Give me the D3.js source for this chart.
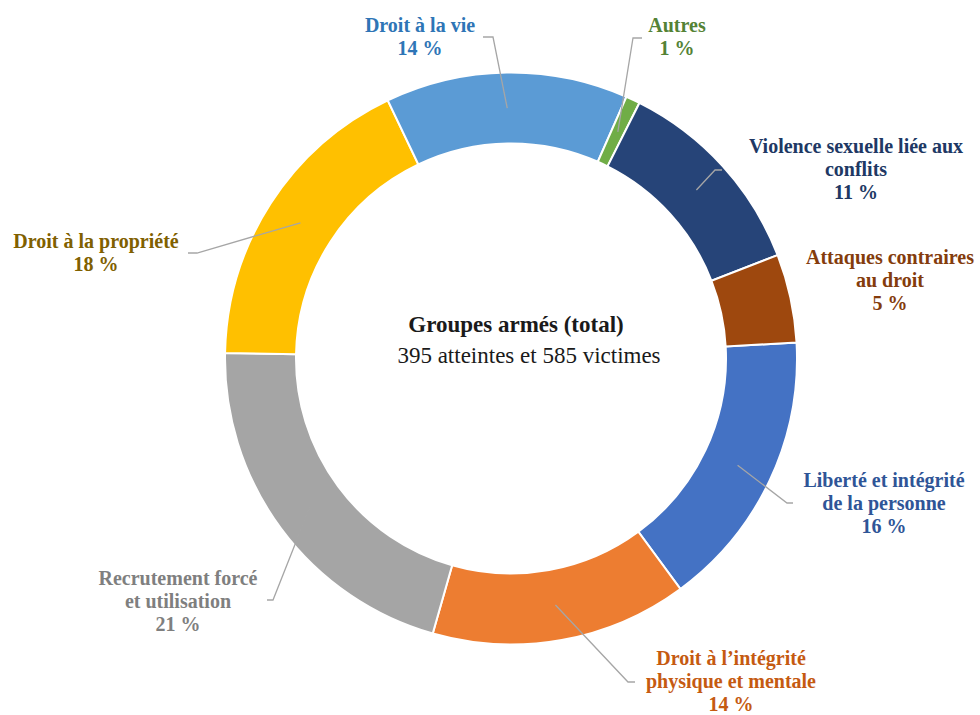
<!DOCTYPE html>
<html>
<head>
<meta charset="utf-8">
<script src="https://cdn.jsdelivr.net/npm/d3@7"></script>
</head>
<body style="margin:0">
<svg id="chart" width="980" height="715" style="font-family: 'Times New Roman', 'Liberation Serif', serif"></svg>
<script>
// order clockwise, first slice starts just left of 3 o'clock
const CATEGORIES = [
    ['Liberté et intégrité', 'de la personne'],
    ['Droit à l\u2019intégrité', 'physique et mentale'],
    ['Recrutement forcé', 'et utilisation'],
    ['Droit à la propriété'],
    ['Droit à la vie'],
    ['Autres'],
    ['Violence sexuelle liée aux', 'conflits'],
    ['Attaques contraires', 'au droit']
];
const SHARES = [15.8, 14.5, 20.9, 17.6, 13.7, 0.8, 11.7, 5.0];
const SHARE_LABELS = ['16 %', '14 %', '21 %', '18 %', '14 %', '1 %', '11 %', '5 %'];
const TITLE = 'Groupes armés (total)';
const SUBTITLE = '395 atteintes et 585 victimes';

const FILLS = ['#4472c4', '#ed7d31', '#a5a5a5', '#ffc000', '#5b9bd5', '#70ad47', '#264478', '#9e480e'];
const TEXT_COLORS = ['#2f5597', '#c55a11', '#7f7f7f', '#806000', '#2e75b6', '#548235', '#203864', '#843c0c'];

var FONT = 'Times New Roman';

function generateDonut() {
    var cx = 511;
    var cy = 358.5;
    var outer = 286;
    var inner = 215;
    var lineH = 23;

    // label block: centre x, first baseline, elbow of leader line (null = no leader)
    var layout = [
        {x: 884, y: 487, elbow: [787, 503], end: 793},
        {x: 731, y: 665, elbow: [628, 682], end: 635},
        {x: 178, y: 585, elbow: [273, 600], end: 267},
        {x: 96,  y: 248, elbow: [197, 253], end: 188},
        {x: 420, y: 32,  elbow: [493, 37],  end: 483},
        {x: 677, y: 32,  elbow: [633, 38],  end: 642},
        {x: 856, y: 153, elbow: [715, 170], end: 722},
        {x: 890, y: 264, elbow: null}
    ];

    var svg = d3.select('#chart');

    var startAngle = 86.8 * Math.PI / 180;
    var pie = d3.pie()
    .sort(null)
    .value(function (d) {return d;})
    .startAngle(startAngle)
    .endAngle(startAngle + 2 * Math.PI);

    var arcs = pie(SHARES);

    var arc = d3.arc()
    .innerRadius(inner)
    .outerRadius(outer);

    var g = svg.append('g')
    .attr('transform', `translate(${cx}, ${cy})`);

    g.selectAll('path.slice')
    .data(arcs)
    .enter()
    .append('path')
    .attr('class', 'slice')
    .attr('fill', function (d, i) {return FILLS[i];})
    .attr('stroke', '#fff')
    .attr('stroke-width', 2)
    .attr('d', arc);

    // leader lines from slice middle to the label
    svg.selectAll('polyline.leader')
    .data(arcs.filter(function (d, i) {return layout[i].elbow;}))
    .enter()
    .append('polyline')
    .attr('class', 'leader')
    .attr('fill', 'none')
    .attr('stroke', '#a6a6a6')
    .attr('stroke-width', 1.3)
    .attr('points', function (d) {
        var L = layout[d.index];
        var c = arc.centroid(d);
        return [[c[0] + cx, c[1] + cy], L.elbow, [L.end, L.elbow[1]]].map(function (p) {return p.join(',');}).join(' ');
    });

    // one text per label line
    arcs.forEach(function (d, i) {
        var lines = CATEGORIES[i].concat([SHARE_LABELS[i]]);
        lines.forEach(function (s, k) {
            svg.append('text')
            .attr('x', layout[i].x)
            .attr('y', layout[i].y + k * lineH)
            .attr('text-anchor', 'middle')
            .style('font-family', FONT)
            .attr('font-size', 20)
            .attr('font-weight', 'bold')
            .attr('fill', TEXT_COLORS[i])
            .text(s);
        });
    });

    svg.append('text')
    .attr('x', 516)
    .attr('y', 332)
    .attr('text-anchor', 'middle')
    .style('font-family', FONT)
    .attr('font-size', 23)
    .attr('font-weight', 'bold')
    .attr('fill', '#1a1a1a')
    .text(TITLE);

    svg.append('text')
    .attr('x', 529)
    .attr('y', 363)
    .attr('text-anchor', 'middle')
    .style('font-family', FONT)
    .attr('font-size', 23)
    .attr('fill', '#1a1a1a')
    .text(SUBTITLE);
}

generateDonut();
</script>
</body>
</html>
